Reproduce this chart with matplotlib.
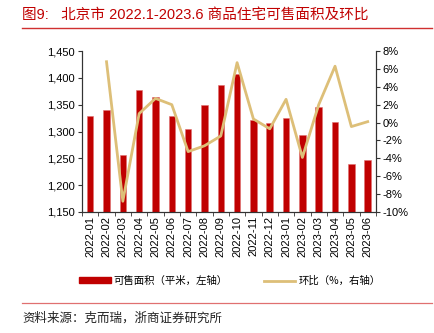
import matplotlib
matplotlib.use('Agg')
import matplotlib.pyplot as plt
import numpy as np
from matplotlib.patches import Patch
from matplotlib.lines import Line2D
from matplotlib.ticker import FuncFormatter, MultipleLocator

plt.rcParams['font.family'] = ['Liberation Sans', 'Noto Sans CJK SC', 'DejaVu Sans']

# data
months = ['2022-01', '2022-02', '2022-03', '2022-04', '2022-05', '2022-06',
          '2022-07', '2022-08', '2022-09', '2022-10', '2022-11', '2022-12',
          '2023-01', '2023-02', '2023-03', '2023-04', '2023-05', '2023-06']
area = [1329, 1340, 1256, 1377, 1364, 1329, 1304, 1349, 1387, 1408,
        1321, 1316, 1326, 1293, 1346, 1318, 1240, 1247]
mom = [np.nan, 6.8, -8.8, 1.0, 2.7, 2.0, -3.25, -2.6, -1.5, 6.7,
       0.4, -0.7, 2.6, -3.9, 2.0, 6.3, -0.45, 0.1]

red = '#C00000'
gold = '#DDBF78'
cjk = ['Noto Sans CJK SC', 'Liberation Sans']
latin_first = ['Liberation Sans', 'Noto Sans CJK SC']

fig = plt.figure(figsize=(4.34, 3.33), dpi=100)
ax1 = fig.add_axes([0.189, 0.3634, 0.677, 0.4834])
x = np.arange(len(months))
ax1.bar(x, area, width=0.4, color=red, edgecolor='#E07070', linewidth=0.4, zorder=2)
ax1.set_ylim(1150, 1450)
ax1.set_xlim(-0.5, len(months) - 0.5)
ax1.yaxis.set_major_locator(MultipleLocator(50))
ax1.yaxis.set_major_formatter(FuncFormatter(lambda v, p: f'{v:,.0f}'))
ax1.set_xticks(x)
ax1.set_xticklabels(months, rotation=90)
ax1.set_xticks(np.arange(-0.5, len(months)), minor=True)
ax1.tick_params(axis='x', which='major', length=0, labelsize=8, pad=3)
ax1.tick_params(axis='x', which='minor', length=3, color='#333333')
ax1.tick_params(axis='y', labelsize=8, length=3, color='#333333', pad=2)
ax1.spines['top'].set_visible(False)
for s in ('left', 'bottom', 'right'):
    ax1.spines[s].set_color('#333333')
    ax1.spines[s].set_linewidth(0.8)

ax2 = ax1.twinx()
ax2.plot(x, mom, color=gold, linewidth=2, zorder=3)
ax2.set_ylim(-10, 8)
ax2.yaxis.set_major_locator(MultipleLocator(2))
ax2.yaxis.set_major_formatter(FuncFormatter(lambda v, p: f'{v:.0f}%'))
ax2.tick_params(axis='y', labelsize=8, length=3, color='#333333', pad=2)
ax2.spines['top'].set_visible(False)
for s in ('left', 'bottom', 'right'):
    ax2.spines[s].set_color('#333333')
    ax2.spines[s].set_linewidth(0.8)

# title and rules
fig.text(0.051, 0.955, '图9:   北京市 2022.1-2023.6 商品住宅可售面积及环比',
         color=red, fontsize=10.5, family=latin_first, va='center', ha='left')
fig.add_artist(Line2D([0.051, 0.995], [0.916, 0.916], color='#D03030', linewidth=1.0))
fig.add_artist(Line2D([0.051, 0.995], [0.09, 0.09], color='#E07070', linewidth=0.9))
fig.text(0.051, 0.045, '资料来源：克而瑞，浙商证券研究所', fontsize=9,
         family=cjk, va='center', ha='left', color='#222222')

handles = [Patch(facecolor=red, edgecolor=red),
           Line2D([0], [0], color=gold, linewidth=2)]
leg = fig.legend(handles, ['可售面积（平米，左轴）', '环比（%，右轴）'],
                 loc='center', bbox_to_anchor=(0.53, 0.156), ncol=2, frameon=False,
                 prop={'family': cjk, 'size': 7.5}, handlelength=3.0,
                 handleheight=0.5, handletextpad=0.3, columnspacing=3.5)

fig.savefig('out.png', dpi=100)
